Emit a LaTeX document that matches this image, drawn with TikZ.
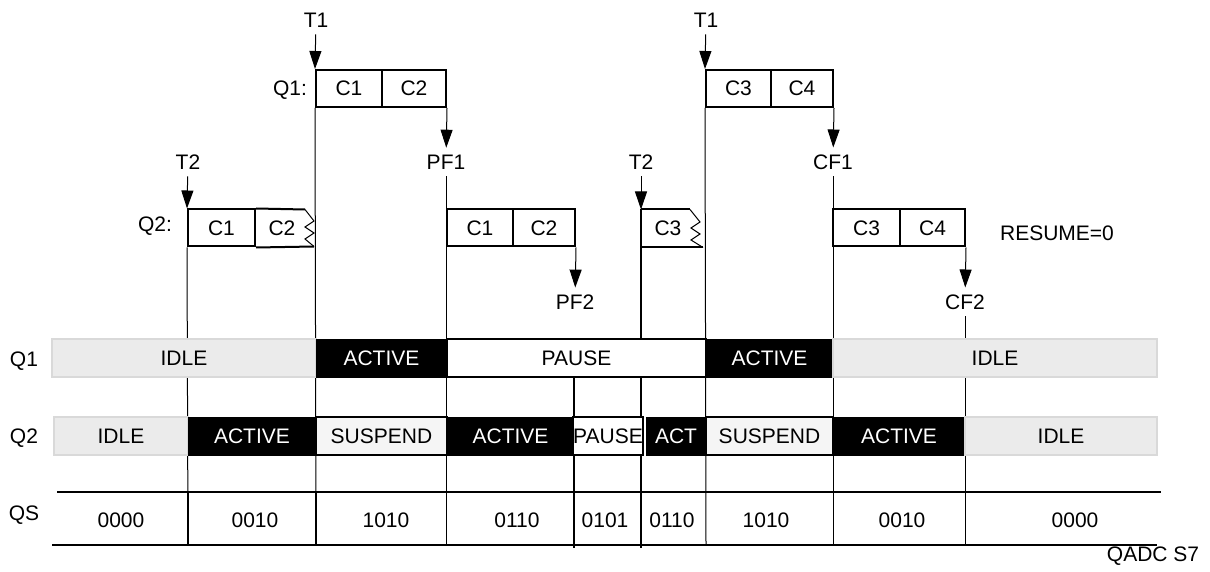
\documentclass[tikz,border=0pt]{standalone}
\usepackage{fontspec}
\setmainfont{Liberation Sans}
\usetikzlibrary{arrows.meta}

\begin{document}
\begin{tikzpicture}[
  x=0.5pt, y=-0.5pt,
  font=\fontsize{10.5}{12}\selectfont,
  cell/.style={rectangle, draw=black, line width=1pt, minimum height=18.5pt, inner sep=0pt},
  bar/.style={rectangle, minimum height=19pt, inner sep=0pt},
  idlebar/.style={bar, fill=black!8, draw=black!15, line width=1pt},
  actbar/.style={bar, fill=black, draw=black, line width=0.5pt, text=white},
  pausebar/.style={bar, fill=white, draw=black, line width=1pt},
  suspbar/.style={bar, fill=black!4, draw=black, line width=0.6pt},
  wire/.style={line width=0.5pt},
  heavy/.style={line width=1pt},
  arr/.style={-{Triangle[length=9pt, width=6pt]}, line width=0.5pt}
]
\useasboundingbox (0,0) rectangle (1210,572);

% trigger and flag labels
\node (t1a) at (316,20) {T1};
\node (t1b) at (706,20) {T1};
\node (t2a) at (188,162) {T2};
\node (t2b) at (641,162) {T2};
\node (pf1) at (446,162) {PF1};
\node (cf1) at (833,162) {CF1};
\node (pf2) at (575,302) {PF2};
\node (cf2) at (965,302) {CF2};
\node (resume) at (1057,233) {RESUME=0};

% queue 1 conversions
\node (q1lab) at (290,90) {Q1:};
\node[cell, minimum width=33pt] (qa1) at (349,88.5) {C1};
\node[cell, minimum width=32pt] (qa2) at (414,88.5) {C2};
\node[cell, minimum width=32.5pt] (qa3) at (738.5,88.5) {C3};
\node[cell, minimum width=31pt] (qa4) at (802,88.5) {C4};

% queue 2 conversions
\node (q2lab) at (155,226) {Q2:};
\node[cell, minimum width=33.5pt] (qb1) at (221.5,228) {C1};
\node (qb2) at (282,228) {C2};
\node[cell, minimum width=33pt] (qb3) at (480,228) {C1};
\node[cell, minimum width=31pt] (qb4) at (544,228) {C2};
\node (qb5) at (668,228) {C3};
\node[cell, minimum width=33.5pt] (qb6) at (866.5,228) {C3};
\node[cell, minimum width=32.5pt] (qb7) at (932.5,228) {C4};

% interrupted conversions
\draw[heavy] (qb1.north east) -- (305,209.5);
\draw[heavy] (qb1.south east) -- (314,246.5);
\draw[wire] (305,209.5) -- (314,221) -- (305,227) -- (314,233) -- (305,239) -- (314,246.5);
\coordinate (c3nw) at (641,209.5);
\coordinate (c3sw) at (641,247.5);
\draw[heavy] (c3nw) -- (690,209.5);
\draw[heavy] (c3sw) -- (703,247.5);
\draw[wire] (690,209.5) -- (700,222) -- (691,228) -- (700,234) -- (691,240) -- (703,247.5);

% arrows
\draw[arr] (t1a) -- (qa1.north west);
\draw[arr] (t1b) -- (qa3.north west);
\draw[arr] (t2a) -- (qb1.north west);
\draw[arr] (t2b.south) -- (c3nw);
\draw[arr] (qa2.south east) -- (pf1);
\draw[arr] (qa4.south east) -- (cf1);
\draw[arr] (qb4.south east) -- (pf2);
\draw[arr] (qb7.south east) -- (cf2);

% time marks
\coordinate (bot188) at (188,545);
\coordinate (bot316) at (316,545);
\coordinate (bot447) at (446,545);
\coordinate (bot574) at (574,548);
\coordinate (bot641) at (641,548);
\coordinate (bot706) at (706,545);
\coordinate (bot833) at (833,545);
\coordinate (bot965) at (965,545);
\draw[wire] (qb1.south west) -- (bot188);
\draw[wire] (qa1.south west) -- (bot316);
\draw[wire] (pf1) -- (bot447);
\draw[heavy] (c3nw) -- (bot641);
\draw[wire] (qa3.south west) -- (bot706);
\draw[wire] (cf1) -- (bot833);
\draw[wire] (cf2) -- (bot965);

% row labels
\node (rq1) at (24,361) {Q1};
\node (rq2) at (24,438) {Q2};
\node (rqs) at (24,515) {QS};

% Q1 states
\node[idlebar, minimum width=132pt] (q1idlea) at (184,358) {IDLE};
\node[actbar, minimum width=65.5pt] (q1acta) at (381.5,358) {ACTIVE};
\node[pausebar, minimum width=129.5pt] (q1pause) at (576.5,358) {PAUSE};
\node[actbar, minimum width=63.5pt] (q1actb) at (769.5,358) {ACTIVE};
\node[idlebar, minimum width=162pt] (q1idleb) at (995,358) {IDLE};
\draw[heavy] (q1pause.south -| bot574) -- (bot574);

% Q2 states
\node[idlebar, minimum width=67pt] (q2idlea) at (121,436) {IDLE};
\node[actbar, minimum width=64pt] (q2acta) at (252,436) {ACTIVE};
\node[suspbar, minimum width=65.5pt] (q2suspa) at (381.5,436) {SUSPEND};
\node[actbar, minimum width=63.5pt] (q2actb) at (510.5,436) {ACTIVE};
\node[pausebar, minimum width=34pt] (q2pause) at (608,436) {PAUSE};
\node[actbar, minimum width=30pt] (q2actc) at (676,436) {ACT};
\node[suspbar, minimum width=63.5pt] (q2suspb) at (769.5,436) {SUSPEND};
\node[actbar, minimum width=66pt] (q2actd) at (899,436) {ACTIVE};
\node[idlebar, minimum width=96pt] (q2idleb) at (1061,436) {IDLE};

% QS row
\coordinate (qsnw) at (57,492);
\coordinate (qsne) at (1161,492);
\coordinate (qssw) at (52,545);
\coordinate (qsse) at (1157,545);
\draw[heavy] (qsnw) -- (qsne);
\draw[heavy] (qssw) -- (qsse);
\draw[heavy] (bot188 |- qsnw) -- (bot188);
\draw[heavy] (bot316 |- qsnw) -- (bot316);
\node (qs1) at (121,520) {0000};
\node (qs2) at (255,520) {0010};
\node (qs3) at (386,520) {1010};
\node (qs4) at (517,520) {0110};
\node (qs5) at (605,520) {0101};
\node (qs6) at (672,520) {0110};
\node (qs7) at (766,520) {1010};
\node (qs8) at (902,520) {0010};
\node (qs9) at (1075,520) {0000};

\node (qadc) at (1153,556) {QADC S7};
\end{tikzpicture}
\end{document}
